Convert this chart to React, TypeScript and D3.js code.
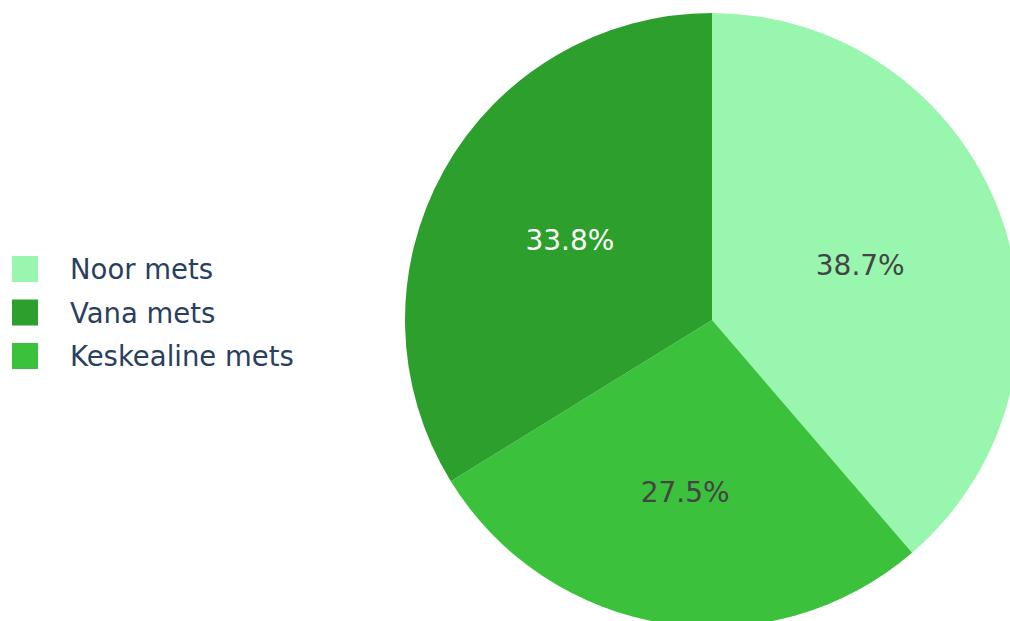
import React from "react";
import * as d3 from "d3";

const labels = ["Noor mets", "Keskealine mets", "Vana mets"];
const values = [38.7, 27.5, 33.8];
const colors = ["#98f6ae", "#3bc13b", "#2c9f2c"];
const textColors = ["#444444", "#444444", "#ffffff"];
const legendOrder = ["Noor mets", "Vana mets", "Keskealine mets"];

const W = 1010;
const H = 621;
const cx = 712;
const cy = 320;
const R = 307;
const labelRadiusFactor = [0.515, 0.57, 0.53];

export default function App() {
  const pie = d3
    .pie<number>()
    .sort(null)
    .value((d) => d);
  const arcs = pie(values);
  const arc = d3.arc<d3.PieArcDatum<number>>().innerRadius(0).outerRadius(R);
  const font = "'DejaVu Sans', Verdana, sans-serif";
  return (
    <svg
      width={W}
      height={H}
      style={{ position: "absolute", left: 0, top: 0, background: "#fff" }}
    >
      <g transform={`translate(${cx},${cy})`}>
        {arcs.map((a, i) => (
          <path key={i} d={arc(a) || ""} fill={colors[i]} />
        ))}
        {arcs.map((a, i) => {
          const lr = R * labelRadiusFactor[i];
          const [x, y] = d3
            .arc<d3.PieArcDatum<number>>()
            .innerRadius(lr)
            .outerRadius(lr)
            .centroid(a);
          return (
            <text
              key={"t" + i}
              x={x}
              y={y}
              textAnchor="middle"
              dominantBaseline="central"
              fill={textColors[i]}
              fontFamily={font}
              fontSize={28}
            >
              {values[i].toFixed(1) + "%"}
            </text>
          );
        })}
      </g>
      <g>
        {legendOrder.map((name, k) => {
          const i = labels.indexOf(name);
          const yc = 269 + k * 43.5;
          return (
            <g key={name}>
              <rect x={12} y={yc - 13} width={26} height={26} fill={colors[i]} />
              <text
                x={70}
                y={yc}
                dominantBaseline="central"
                fill="#2a3f5f"
                fontFamily={font}
                fontSize={27.5}
              >
                {name}
              </text>
            </g>
          );
        })}
      </g>
    </svg>
  );
}
